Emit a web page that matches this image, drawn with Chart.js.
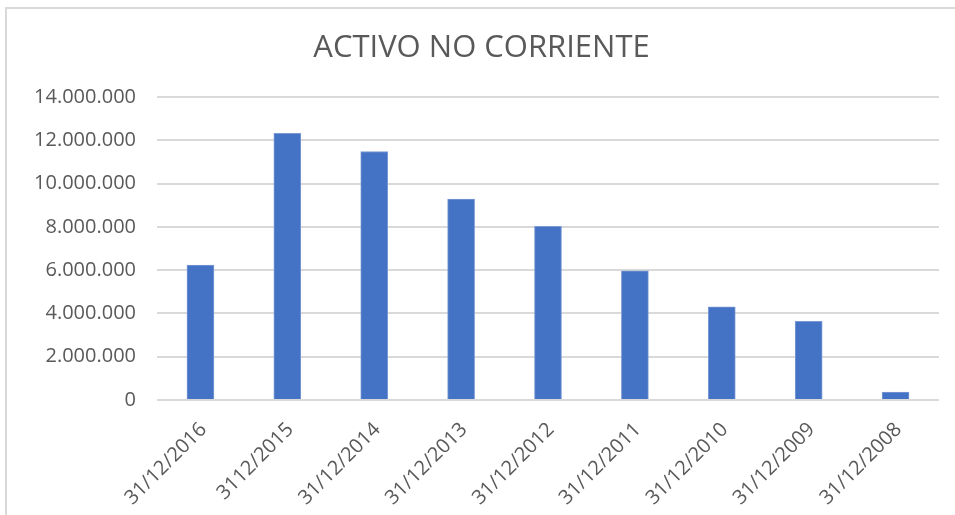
<!DOCTYPE html>
<html>
<head>
<meta charset="utf-8">
<script src="https://cdn.jsdelivr.net/npm/chart.js@4.4.0/dist/chart.umd.min.js"></script>
<style>
  html, body { margin: 0; padding: 0; background: #fff; }
  #frame {
    position: absolute; left: 5px; top: 7px; width: 1000px; height: 600px;
    border-left: 2px solid #d9d9d9; border-top: 2px solid #d9d9d9;
  }
  #wrap { position: absolute; left: 0; top: 0; width: 955px; height: 515px; }
</style>
</head>
<body>
<div id="frame"></div>
<div id="wrap"><canvas id="chartCanvas" width="955" height="515"></canvas></div>
<script>
const fechas = ['31/12/2016', '3112/2015', '31/12/2014', '31/12/2013', '31/12/2012',
                '31/12/2011', '31/12/2010', '31/12/2009', '31/12/2008'];
const activoNoCorriente = [6240000, 12330000, 11490000, 9290000, 8030000,
                           5970000, 4310000, 3640000, 370000];

function formatoMiles(v) {
  return String(v).replace(/\B(?=(\d{3})+(?!\d))/g, '.');
}

const ctx = document.getElementById('chartCanvas').getContext('2d');
new Chart(ctx, {
  type: 'bar',
  data: {
    labels: fechas,
    datasets: [{
      label: 'Activo no corriente',
      data: activoNoCorriente,
      backgroundColor: '#4472c4',
      borderColor: '#7b9ad6',
      borderWidth: 1,
      barThickness: 27
    }]
  },
  options: {
    responsive: false,
    animation: false,
    layout: { padding: { left: 24, right: 16, top: 0, bottom: 0 } },
    plugins: {
      legend: { display: false },
      tooltip: { enabled: false },
      title: {
        display: true,
        text: 'ACTIVO NO CORRIENTE',
        color: '#595959',
        font: { family: 'Open Sans', size: 31, weight: 'normal' },
        padding: { top: 30, bottom: 30 }
      }
    },
    scales: {
      x: {
        grid: { display: false },
        border: { display: false },
        ticks: {
          color: '#595959',
          font: { family: 'Open Sans', size: 20 },
          maxRotation: 45,
          minRotation: 45,
          padding: 10,
          labelOffset: 3
        },
        afterFit: s => { s.height = 115; }
      },
      y: {
        min: 0,
        max: 14000000,
        ticks: {
          stepSize: 2000000,
          color: '#595959',
          font: { family: 'Open Sans', size: 20 },
          padding: 21,
          callback: v => formatoMiles(v)
        },
        grid: { color: '#d9d9d9', lineWidth: 2, drawTicks: false },
        border: { display: false },
        afterFit: s => { s.width = 133; }
      }
    }
  }
});
</script>
</body>
</html>
